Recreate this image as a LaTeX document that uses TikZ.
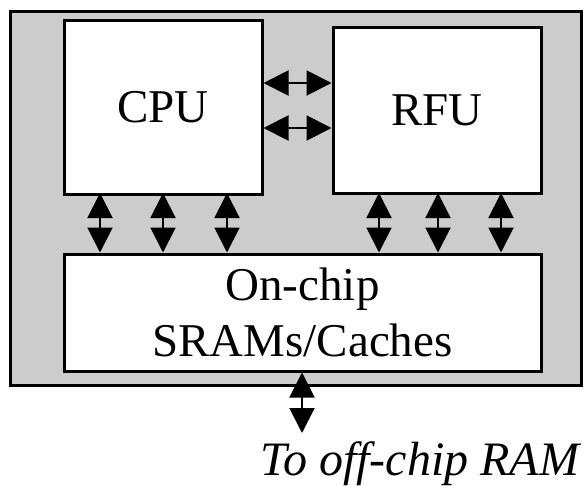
\documentclass[tikz,border=0pt]{standalone}
\usepackage{fontspec}
\setmainfont{Liberation Serif}
\usetikzlibrary{arrows.meta,positioning}

\begin{document}
\begin{tikzpicture}[x=1pt, y=-1pt,
  font=\fontsize{47}{56.5}\selectfont,
  blk/.style={draw, line width=3pt, fill=white, inner sep=0pt, align=center},
  chip/.style={draw, line width=3pt, fill=gray!40, inner sep=0pt},
  bus/.style={<->, >={Triangle[length=25pt,width=25pt]}, line width=2pt}]
  \useasboundingbox (0,0) rectangle (584,485);
  \node[chip, minimum width=571pt, minimum height=374pt] (soc) at (295.5,198) {};
  \node[blk, minimum width=198pt, minimum height=174pt] (cpu) at (163,107) {CPU};
  \node[blk, minimum width=208pt, minimum height=166pt] (rfu) at (437,110) {RFU};
  \node[blk, minimum width=477pt, minimum height=117pt] (mem) at (302.5,312.5) {On-chip\\SRAMs/Caches};
  \node[anchor=base, font=\fontsize{48}{56.5}\selectfont\itshape] (ram) at (420,475) {To off-chip RAM};
  % CPU <-> RFU
  \draw[bus] (cpu.east |- 0,83) -- (rfu.west |- 0,83);
  \draw[bus] (cpu.east |- 0,128) -- (rfu.west |- 0,128);
  % to the memories
  \foreach \x in {100,163,227,379,438,501}
    \draw[bus] (\x,193) -- (mem.north -| \x,0);
  \coordinate (ext) at (302,433);
  \draw[bus] (mem.south -| ext) -- (ext);
\end{tikzpicture}
\end{document}
